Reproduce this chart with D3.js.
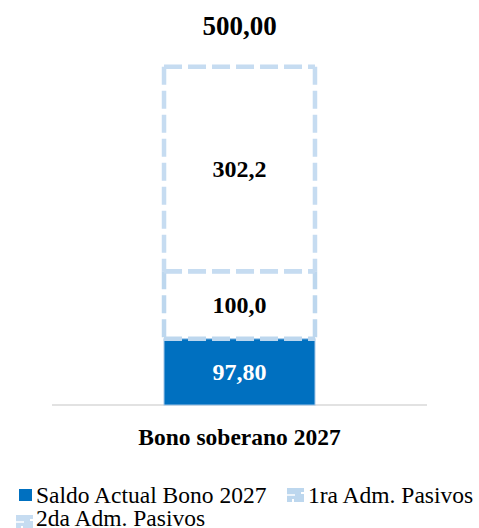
<!DOCTYPE html>
<html>
<head>
<meta charset="utf-8">
<script src="https://cdn.jsdelivr.net/npm/d3@7/dist/d3.min.js"></script>
<style>
  html, body { margin: 0; padding: 0; background: #ffffff; }
  svg { display: block; }
  text { font-family: "Times New Roman", "Liberation Serif", serif; }
</style>
</head>
<body>
<svg id="chart" width="479" height="528"></svg>
<script>
// ---- data ----
const categories = ["Bono soberano 2027"];
const seriesNames = ["Saldo Actual Bono 2027", "1ra Adm. Pasivos", "2da Adm. Pasivos"];
const saldoActual = [97.80];
const primeraAdm = [100.0];
const segundaAdm = [302.2];
const valueLabels = [["97,80"], ["100,0"], ["302,2"]];
const totalLabels = ["500,00"];
const seriesColors = ["#0070C0", "#BDD7EE", "#C6DCF1"];

(function () {
const svg = d3.select("#chart");
const x = d3.scaleBand().domain(categories).range([52, 427]).padding(0.426);
const y = d3.scaleLinear().domain([0, 600]).range([405, -1]);

const seriesValues = [saldoActual, primeraAdm, segundaAdm];
const rows = categories.map((c, i) => {
  const r = { cat: c };
  seriesNames.forEach((s, j) => r[s] = seriesValues[j][i]);
  return r;
});
const stacked = d3.stack().keys(seriesNames)(rows);

// baseline
svg.append("line")
  .attr("x1", x.range()[0]).attr("x2", x.range()[1])
  .attr("y1", y(0)).attr("y2", y(0))
  .attr("stroke", "#D9D9D9").attr("stroke-width", 1.5);

// rectangle outline as four subpaths so each side starts its dash pattern
function sidesPath(x0, y0, x1, y1) {
  const p = d3.path();
  p.moveTo(x0, y0); p.lineTo(x1, y0);
  p.moveTo(x1, y0); p.lineTo(x1, y1);
  p.moveTo(x0, y0); p.lineTo(x0, y1);
  p.moveTo(x0, y1); p.lineTo(x1, y1);
  return p.toString();
}

// solid series first
svg.append("g").selectAll("rect").data(stacked[0]).join("rect")
  .attr("x", d => x(d.data.cat))
  .attr("width", x.bandwidth())
  .attr("y", d => y(d[1]))
  .attr("height", d => y(d[0]) - y(d[1]))
  .attr("fill", seriesColors[0])
  .attr("stroke", "#9DC3E6")
  .attr("stroke-width", 1);

// dashed series on top
stacked.slice(1).forEach((layer, k) => {
  const j = k + 1;
  svg.append("g").selectAll("path").data(layer).join("path")
    .attr("d", d => sidesPath(x(d.data.cat), y(d[1]), x(d.data.cat) + x.bandwidth(), y(d[0])))
    .attr("fill", "none")
    .attr("stroke", seriesColors[j])
    .attr("stroke-width", 4.5)
    .attr("stroke-dasharray", "18,6")
    .attr("stroke-linecap", "butt");
});

// value labels
stacked.forEach((layer, j) => {
  svg.append("g").selectAll("text").data(layer).join("text")
    .attr("x", d => x(d.data.cat) + x.bandwidth() / 2)
    .attr("y", d => (y(d[0]) + y(d[1])) / 2)
    .attr("dy", "0.35em")
    .attr("text-anchor", "middle")
    .attr("font-size", 24)
    .attr("font-weight", "bold")
    .attr("fill", j === 0 ? "#ffffff" : "#000000")
    .text((d, i) => valueLabels[j][i]);
});

// total labels
const topLayer = stacked[stacked.length - 1];
svg.append("g").selectAll("text").data(topLayer).join("text")
  .attr("x", d => x(d.data.cat) + x.bandwidth() / 2)
  .attr("y", 35)
  .attr("text-anchor", "middle")
  .attr("font-size", 27)
  .attr("font-weight", "bold")
  .attr("fill", "#000")
  .text((d, i) => totalLabels[i]);

// category axis
const axis = svg.append("g").attr("transform", `translate(0,${y(0)})`)
  .call(d3.axisBottom(x).tickSize(0).tickPadding(0));
axis.select(".domain").remove();
axis.selectAll("text")
  .attr("y", 40)
  .attr("dy", 0)
  .attr("font-size", 23.5)
  .attr("font-weight", "bold")
  .attr("fill", "#000")
  .style("font-family", "'Times New Roman', 'Liberation Serif', serif");

// legend
const legendPos = [
  { mx: 19, my: 489, tx: 36, by: 503 },
  { mx: 290, my: 491, tx: 308, by: 503 },
  { mx: 19, my: 518, tx: 36, by: 526 }
];
const lg = svg.append("g");
seriesNames.forEach((s, j) => {
  const p = legendPos[j];
  if (j === 0) {
    lg.append("rect").attr("x", p.mx).attr("y", p.my).attr("width", 13).attr("height", 12)
      .attr("fill", seriesColors[0]);
  } else {
    lg.append("rect").attr("x", p.mx).attr("y", p.my).attr("width", 11).attr("height", 8)
      .attr("fill", seriesColors[j]).attr("stroke", seriesColors[j]).attr("stroke-width", 6)
      .attr("stroke-dasharray", "12,2");
    lg.append("path")
      .attr("d", `M${p.mx - 3},${p.my + 4}H${p.mx + 5}`)
      .attr("stroke", "#fff").attr("stroke-width", 1.5);
  }
  lg.append("text").attr("x", p.tx).attr("y", p.by)
    .attr("font-size", 23.5).attr("fill", "#000").text(s);
});
})();
</script>
</body>
</html>
